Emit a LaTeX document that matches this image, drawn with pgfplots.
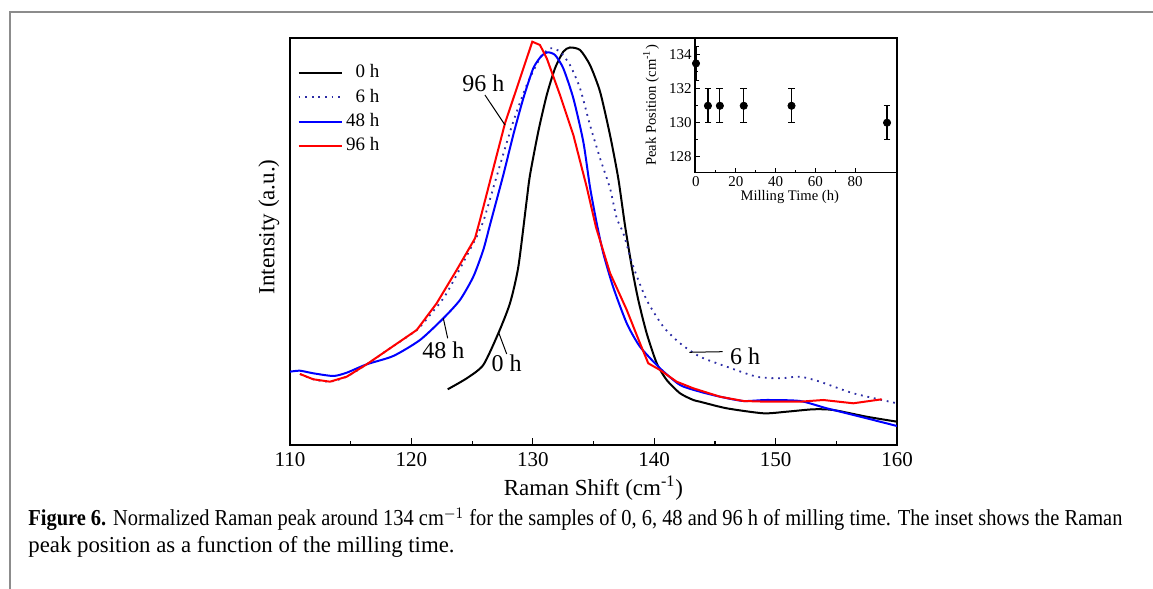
\documentclass[border=0pt]{standalone}
\usepackage{fontspec}
\setmainfont{Liberation Serif}
\usepackage{graphicx}
\usepackage{pgfplots}
\pgfplotsset{compat=1.18}
\definecolor{dotblue}{RGB}{45,45,165}
\definecolor{framegray}{RGB}{140,140,140}
\begin{document}
\begin{tikzpicture}
\path[use as bounding box] (0pt,0pt) rectangle (576.5pt,294.5pt);
\draw[framegray, line width=1pt] (5pt,0pt) -- (5pt,288.5pt) -- (576.5pt,288.5pt);
\begin{axis}[
  at={(145pt,72pt)}, anchor=south west,
  scale only axis, width=303.5pt, height=203.5pt,
  xmin=110, xmax=160, ymin=0, ymax=407,
  xtick={110,120,...,160}, minor x tick num=1,
  ytick=\empty,
  tick align=inside, xtick pos=bottom,
  major tick length=3.5pt, minor tick length=2pt,
  tick style={black, line width=0.6pt},
  axis line style={line width=0.7pt},
  /pgf/number format/assume math mode=true,
  ticklabel style={font=\fontsize{10.5}{12}\selectfont},
  xlabel={Raman Shift (cm\textsuperscript{-1})},
  ylabel={Intensity (a.u.)},
  label style={font=\fontsize{11.5}{13}\selectfont},
  xlabel style={at={(axis description cs:0.5,-0.106)}, anchor=center},
  ylabel style={at={(axis description cs:-0.035,0.536)}, anchor=center},
  legend style={draw=none, fill=none, at={(axis description cs:0.012,0.945)}, anchor=north west,
    inner sep=0pt, row sep=0pt, font=\fontsize{9.5}{11}\selectfont,
    nodes={inner sep=1.5pt, text height=7pt, text depth=2.2pt}},
  legend cell align=right,
  legend image code/.code={\draw[#1] (0pt,0pt) -- (21.7pt,0pt);},
]
\addplot[black, line width=1pt, smooth, tension=0.4] coordinates {
(122.99,55.7)(124.56,66.7)(125.92,80)(127.16,111.7)(128.12,141.7)(128.81,178.3)(129.50,245)(129.77,270)(130.45,313.3)(131.15,350)(131.83,376.7)(132.51,393.3)(133.06,397.5)(133.89,395)(134.71,380)(135.54,353.3)(136.36,310)(137.04,266.7)(137.59,220)(138.15,178.3)(138.69,145)(139.38,111.7)(140.21,81.7)(141.03,65)(142.13,51.7)(143.22,45)(143.77,43.3)(145.97,36.7)(148.99,31.7)(150.91,33.3)(153.11,35.7)(154.75,35)(157.50,28.3)(160,23.3)
};
\addlegendentry{0 h}
\addplot[dotblue, line width=0.9pt, dash pattern=on 0.9pt off 2.4pt, smooth, tension=0.4] coordinates {
(110.82,71)(111.92,65.7)(113.29,63.3)(114.67,68.3)(116.32,80.7)(118.24,96.7)(120.44,115)(121.6,131)(122.9,151.7)(125.38,208.3)(125.92,223.3)(127.30,280)(128.39,323.3)(129.50,360)(130.59,386.7)(131.42,396.7)(132.24,393.3)(133.06,380)(133.89,356.7)(134.71,320)(135.54,286.7)(136.36,256.7)(136.91,227)(137.46,211.7)(138.28,178.3)(139.38,145)(140.75,118.3)(142.13,101.7)(143.77,88.3)(145.97,78.3)(148.44,68.3)(150.36,66.7)(152.01,68.3)(153.66,63.3)(156.40,51.7)(160,41.7)
};
\addlegendentry{6 h}
\addplot[blue, line width=1pt, smooth, tension=0.4] coordinates {
(110,73.3)(110.82,74.3)(111.92,71.7)(113.57,69)(114.67,72.3)(116.32,80.7)(118.51,89)(120.71,105)(122.63,126.7)(124.00,145)(125.10,168.3)(125.92,195)(126.47,220)(127.57,270)(128.39,310)(129.22,346.7)(130.04,376.7)(130.73,389.3)(131.23,392.7)(131.83,390)(132.51,376.7)(133.34,346.7)(134.16,303.3)(134.71,258)(135.26,222)(135.8,192)(136.61,158.3)(137.74,121.7)(138.83,98.3)(140.48,76.7)(142.13,60)(143.77,53.3)(145.42,48.3)(147.34,44)(149.27,45)(152.01,44)(154.21,36.7)(157.50,26.7)(160,19)
};
\addlegendentry{48 h}
\addplot[red, line width=1pt] coordinates {
(110.82,71)(111.92,65.7)(113.29,63.3)(114.67,68.3)(116.32,80.7)(118.24,96.7)(120.44,115)(122.08,141.7)(123.73,175)(125.24,206.7)(125.65,225)(126.75,276.7)(127.71,321.7)(129.96,403.3)(130.59,400)(131.15,386.7)(132.24,350)(133.34,310)(134.44,258)(135.2,218)(136.36,172)(137.74,135)(138.83,101.7)(139.51,81.7)(140.48,75)(141.85,63.3)(143.22,56.7)(145.42,48.3)(147.34,44)(149.27,43.3)(152.01,43.3)(153.93,45)(156.40,41.7)(158.74,45.7)
};
\addlegendentry{96 h}
\draw[line width=0.5pt] (axis cs:126.06,350) -- (axis cs:127.71,320);
\node[font=\fontsize{12}{14}\selectfont, inner sep=0pt] at (axis cs:125.92,362) {96 h};
\draw[line width=0.5pt] (axis cs:122.63,126.7) -- (axis cs:122.99,106.7);
\node[font=\fontsize{12}{14}\selectfont, inner sep=0pt] at (axis cs:122.63,95) {48 h};
\draw[line width=0.5pt] (axis cs:127.16,113.3) -- (axis cs:127.85,91);
\node[font=\fontsize{12}{14}\selectfont, inner sep=0pt] at (axis cs:127.85,81.7) {0 h};
\draw[line width=0.5pt] (axis cs:142.89,92.7) -- (axis cs:145.63,93.3);
\node[font=\fontsize{12}{14}\selectfont, inner sep=0pt] at (axis cs:147.48,88.3) {6 h};
\end{axis}
\begin{axis}[
  at={(347.5pt,208.15pt)}, anchor=south west,
  scale only axis, width=101pt, height=67.35pt,
  xmin=-0.5, xmax=101, ymin=127.05, ymax=135,
  xtick={0,20,...,80}, minor x tick num=1,
  ytick={128,130,132,134}, minor y tick num=1,
  tick align=inside, xtick pos=bottom, ytick pos=left,
  major tick length=2.5pt, minor tick length=1.5pt,
  tick style={black, line width=0.5pt},
  axis line style={line width=0.7pt},
  /pgf/number format/assume math mode=true,
  ticklabel style={font=\fontsize{7.5}{9}\selectfont, inner sep=1.5pt},
  xlabel={Milling Time (h)},
  ylabel={Peak Position (cm\textsuperscript{-1})},
  label style={font=\fontsize{7.3}{9}\selectfont},
  xlabel style={at={(axis description cs:0.469,-0.18)}, anchor=center},
  ylabel style={at={(axis description cs:-0.218,0.5)}, anchor=center},
]
\addplot[only marks, mark=*, mark size=1.8pt, black,
  error bars/.cd, y dir=both, y explicit,
  error bar style={line width=0.6pt},
  error mark options={rotate=90, mark size=1.7pt, line width=0.6pt}]
coordinates {
(0,133.5) +- (0,1)
(6,131) +- (0,1)
(12,131) +- (0,1)
(24,131) +- (0,1)
(48,131) +- (0,1)
(96,130) +- (0,1)
};
\end{axis}
\node[anchor=base west, inner sep=0pt, font=\fontsize{11.4}{13.5}\selectfont] at (14pt,31.5pt)
  {\resizebox{547pt}{\height}{\textbf{Figure 6.} Normalized Raman peak around 134 cm$^{-1}$ for the samples of 0, 6, 48 and 96 h of milling time. The inset shows the Raman}};
\node[anchor=base west, inner sep=0pt, font=\fontsize{11.4}{13.5}\selectfont] at (14pt,18pt)
  {peak position as a function of the milling time.};
\end{tikzpicture}
\end{document}
